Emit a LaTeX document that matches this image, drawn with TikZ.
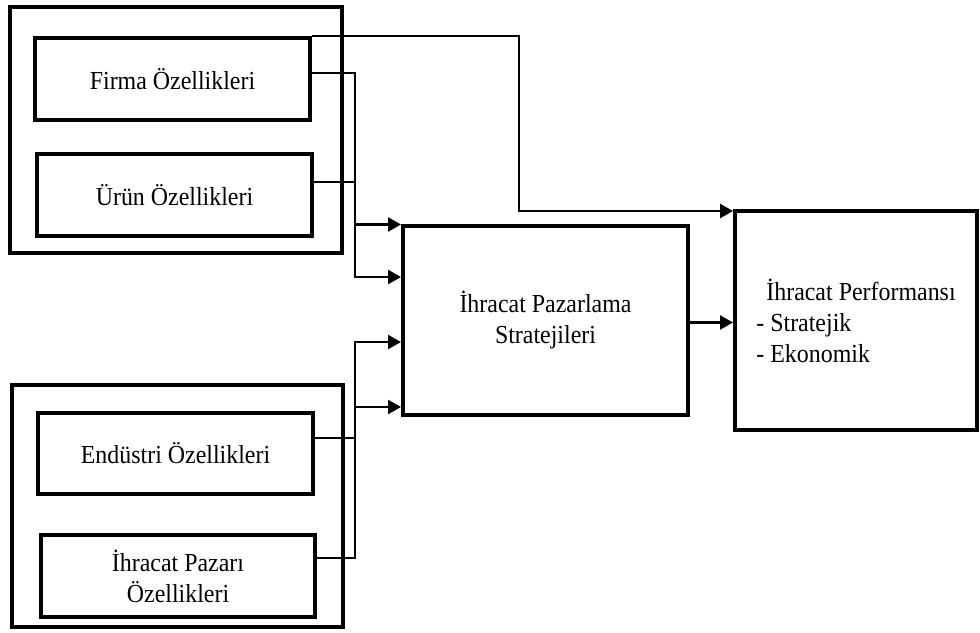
\documentclass[tikz,border=0pt]{standalone}
\usepackage{fontspec}
\setmainfont{Liberation Serif}[FakeStretch=0.92]
\usetikzlibrary{arrows.meta}
\begin{document}
\begin{tikzpicture}[x=1pt,y=-1pt,
  box/.style={draw=black,line width=4pt,rectangle,inner sep=0pt,
    font=\fontsize{26}{31}\selectfont,align=center},
  conn/.style={draw=black,line width=2.4pt},
  arr/.style={conn,-{Triangle[length=13pt,width=14pt]}}]
\useasboundingbox (0,0) rectangle (980,632);
\fill[white] (0,0) rectangle (980,632);
% boxes
\node[box,minimum width=332pt,minimum height=246pt] (outer1) at (176,130) {};
\node[box,minimum width=275pt,minimum height=82pt] (firma) at (172.5,79) {Firma Özellikleri};
\node[box,minimum width=275pt,minimum height=82pt] (urun) at (174.5,195) {Ürün Özellikleri};
\node[box,minimum width=331pt,minimum height=242pt] (outer2) at (177.5,506) {};
\node[box,minimum width=275pt,minimum height=81pt] (endustri) at (175.5,453.5) {Endüstri Özellikleri};
\node[box,minimum width=274pt,minimum height=82pt] (pazari) at (178,576) {İhracat Pazarı\\Özellikleri};
\node[box,minimum width=285pt,minimum height=189pt] (strat) at (545.5,320.5) {İhracat Pazarlama\\Stratejileri};
\node[box,minimum width=242pt,minimum height=219pt,align=left] (perf) at (856,320.5)
  {\hspace{10pt}İhracat Performansı\\- Stratejik\\- Ekonomik};
% helper coordinates
\coordinate (b1) at (355,0);
\coordinate (b2) at (519,0);
\coordinate (s1) at ([yshift=96pt]strat.west);
\coordinate (s2) at ([yshift=43.5pt]strat.west);
\coordinate (s3) at ([yshift=-21.5pt]strat.west);
\coordinate (s4) at ([yshift=-86.5pt]strat.west);
\coordinate (p1) at ([yshift=-2pt]perf.north west);
\coordinate (f1) at ([yshift=6pt]firma.east);
\coordinate (u1) at ([yshift=13pt]urun.east);
\coordinate (e1) at ([yshift=15.5pt]endustri.east);
\coordinate (z1) at ([yshift=18pt]pazari.east);
% connectors
\draw[arr] (firma.north east) -| (p1 -| b2) -- (p1);
\draw[arr] (f1) -| (s1 -| b1) -- (s1);
\draw[arr] (u1) -| (s2 -| b1) -- (s2);
\draw[arr] (e1) -| (s3 -| b1) -- (s3);
\draw[arr] (z1) -| (s4 -| b1) -- (s4);
\draw[arr] ([yshift=-2pt]strat.east) -- ([yshift=-2pt]perf.west);
\end{tikzpicture}
\end{document}
